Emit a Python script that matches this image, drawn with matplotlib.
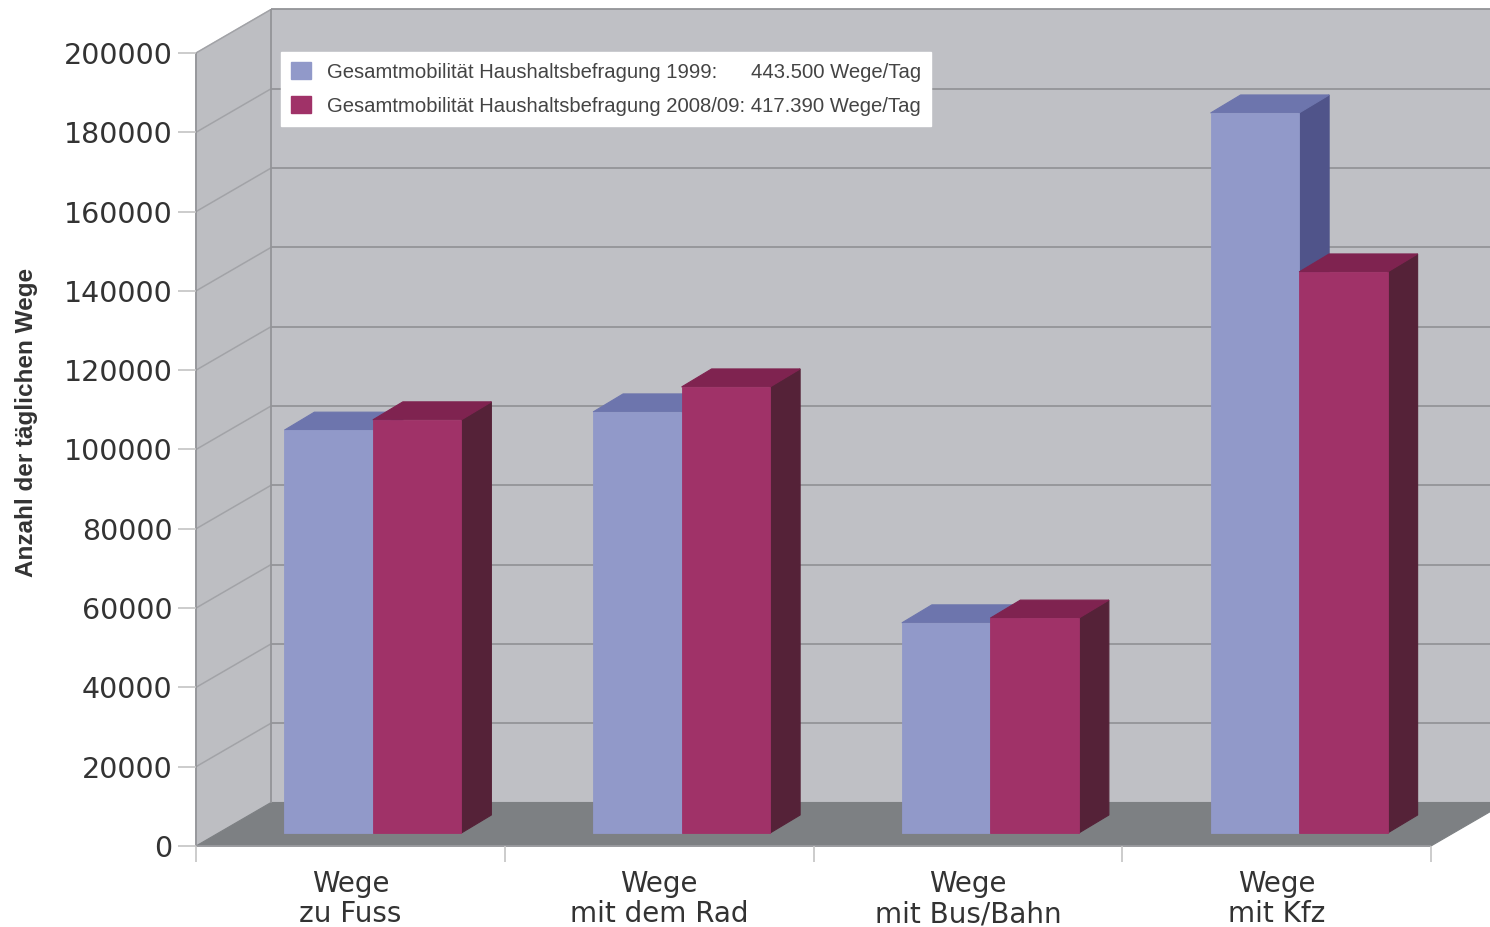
import matplotlib
matplotlib.use("Agg")
import matplotlib.pyplot as plt
from matplotlib.patches import Polygon, Patch

categories = ["Wege\nzu Fuss", "Wege\nmit dem Rad", "Wege\nmit Bus/Bahn", "Wege\nmit Kfz"]
trips_1999 = [101600, 106200, 53000, 181600]
trips_2008 = [104200, 112500, 54200, 141500]
y_ticks = [0, 20000, 40000, 60000, 80000, 100000, 120000, 140000, 160000, 180000, 200000]
legend_1999 = "Gesamtmobilität Haushaltsbefragung 1999:      443.500 Wege/Tag"
legend_2008 = "Gesamtmobilität Haushaltsbefragung 2008/09: 417.390 Wege/Tag"
y_label = "Anzahl der täglichen Wege"

W, H = 1490, 927
LEFT, RIGHT, TOP, BOTTOM = 196, 1431, 53, 846   # front plane of the box, in pixels
X_PX = 4 / (RIGHT - LEFT)
Y_PX = 200000 / (BOTTOM - TOP)

WALL = "#bfc0c5"
SIDE_WALL = "#bdbec2"
FLOOR = "#7d8083"
GRID = "#939498"
TEXT = "#333333"
BLUE = ("#9199c9", "#6d75ad", "#50548a")
RED = ("#a03268", "#7f2350", "#552238")

fig = plt.figure(figsize=(W / 100, H / 100), dpi=100, facecolor="white")
ax = fig.add_axes([LEFT / W, 1 - BOTTOM / H, (RIGHT - LEFT) / W, (BOTTOM - TOP) / H])
ax.set_xlim(0, 4)
ax.set_ylim(0, 200000)
ax.patch.set_visible(False)
for spine in ax.spines.values():
    spine.set_visible(False)

# Box depth: how far the back wall sits behind the front plane
box_dx, box_dy = 75 * X_PX, 43.5 * Y_PX


def poly(points, color, z, edge=None, lw=0.8):
    ax.add_patch(Polygon(points, closed=True, facecolor=color, edgecolor=edge or color,
                         linewidth=lw, zorder=z, clip_on=False))


def line(xs, ys, z=1.5, color=GRID, lw=1.3):
    ax.plot(xs, ys, color=color, lw=lw, zorder=z, clip_on=False, solid_capstyle="butt")


# Walls and floor
far = 4 + box_dx
poly([(box_dx, box_dy), (far, box_dy), (far, 200000 + box_dy), (box_dx, 200000 + box_dy)], WALL, 1)
poly([(0, 0), (box_dx, box_dy), (box_dx, 200000 + box_dy), (0, 200000)], SIDE_WALL, 1)
poly([(0, 0), (box_dx, box_dy), (far, box_dy), (4, 0)], FLOOR, 1.2)

for v in y_ticks[1:]:
    line([box_dx, far], [v + box_dy, v + box_dy])
    line([0, box_dx], [v, v + box_dy], color="#a2a3a7", lw=1.1)
line([0, 0], [0, 200000])
line([box_dx, box_dx], [box_dy, 200000 + box_dy])
line([0, 4], [0, 0], color="#9a9b9f")

# Bars stand in the middle of the floor depth
bar_w = 88.5 * X_PX
inset_x, inset_y = 22.5 * X_PX, 13 * Y_PX
deep_x, deep_y = 30 * X_PX, 18 * Y_PX


def draw_bars(lefts, values, colors, z):
    front, top, side = colors
    ax.bar(lefts, values, width=bar_w, bottom=inset_y, align="edge", color=front,
           edgecolor=front, linewidth=0.6, zorder=z + 0.2)
    for x0, v in zip(lefts, values):
        x1 = x0 + bar_w
        y0, y1 = inset_y, inset_y + v
        poly([(x1, y0), (x1 + deep_x, y0 + deep_y), (x1 + deep_x, y1 + deep_y), (x1, y1)], side, z)
        poly([(x0, y1), (x0 + deep_x, y1 + deep_y), (x1 + deep_x, y1 + deep_y), (x1, y1)], top, z + 0.1)


centers = [i + 0.5 + inset_x for i in range(len(categories))]
draw_bars([c - bar_w for c in centers], trips_1999, BLUE, 3)
draw_bars(centers, trips_2008, RED, 4)

# Axis ticks and labels
ax.set_yticks(y_ticks)
ax.tick_params(axis="y", length=13, width=1.2, color="#c4c4c4", pad=4, labelsize=20.5, labelcolor=TEXT)
ax.set_xticks(range(5), minor=True)
ax.tick_params(axis="x", which="minor", length=11.5, width=1.2, color="#c4c4c4")
ax.set_xticks([i + 0.5 for i in range(4)])
ax.set_xticklabels(categories, linespacing=1.12)
ax.tick_params(axis="x", which="major", length=0, pad=17, labelsize=20, labelcolor=TEXT)

fig.text(27 / W, 1 - 422 / H, y_label, rotation=90, ha="center", va="center", fontsize=17.5,
         fontweight="bold", color=TEXT, family="Liberation Sans")

# Legend panel on the back wall
handles = [Patch(facecolor=BLUE[0], edgecolor=BLUE[0]), Patch(facecolor=RED[0], edgecolor=RED[0])]
leg = fig.legend(handles, [legend_1999, legend_2008], loc="upper left",
                 bbox_to_anchor=(281 / W, 1 - 52 / H), bbox_transform=fig.transFigure,
                 frameon=True, fancybox=False, framealpha=1, facecolor="white", edgecolor="white",
                 borderaxespad=0, borderpad=0.5, labelspacing=0.72, handlelength=1.0, handleheight=0.9,
                 handletextpad=0.75,
                 prop={"family": "Liberation Sans", "size": 14.6})
leg.set_zorder(10)
for t in leg.get_texts():
    t.set_color("#444444")

fig.savefig("out.png", dpi=100)
